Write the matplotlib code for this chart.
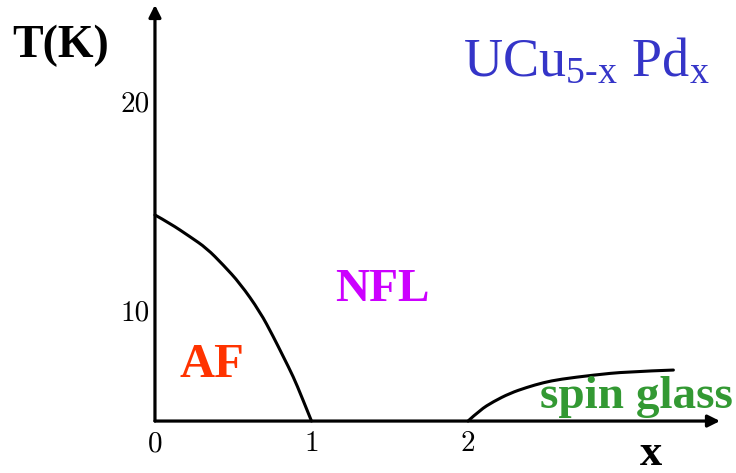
import matplotlib
matplotlib.use("Agg")
import matplotlib.pyplot as plt
from matplotlib.path import Path
from matplotlib.patches import PathPatch

# phase boundaries of UCu(5-x)Pd(x)
x_af = [0.0, 0.096, 0.224, 0.330, 0.436, 0.543, 0.671, 0.756, 0.820,
        0.884, 0.937, 1.0]
t_af = [14.69, 14.29, 13.65, 13.10, 12.30, 11.42, 10.06, 8.87, 7.91,
        6.95, 6.00, 4.83]

x_sg = [2.0, 2.077, 2.162, 2.268, 2.375, 2.481, 2.588, 2.801, 3.014, 3.312]
t_sg = [4.83, 5.36, 5.76, 6.16, 6.44, 6.67, 6.83, 7.03, 7.19, 7.27]

x_ticks = [0, 1, 2]
t_ticks = [10, 20]
t_base = 4.83

plt.rcParams['mathtext.fontset'] = 'custom'
plt.rcParams['mathtext.rm'] = 'Liberation Serif'
plt.rcParams['mathtext.it'] = 'Liberation Serif'


def smooth_path(xs, ys):
    # quadratic bezier through the midpoints, using the points as controls
    pts = list(zip(xs, ys))
    verts = [pts[0]]
    codes = [Path.MOVETO]
    for i in range(1, len(pts) - 1):
        mid = ((pts[i][0] + pts[i + 1][0]) / 2, (pts[i][1] + pts[i + 1][1]) / 2)
        if i == len(pts) - 2:
            mid = pts[-1]
        verts += [pts[i], mid]
        codes += [Path.CURVE3, Path.CURVE3]
    return Path(verts, codes)


fig = plt.figure(figsize=(7.36, 4.73), dpi=100)
ax = fig.add_axes([0, 0, 1, 1])
ax.set_xlim(-0.990, 3.712)
ax.set_ylim(2.344, 24.976)
ax.axis('off')

# axes drawn as arrows
arrow = dict(arrowstyle='-|>', lw=2.3, color='k', mutation_scale=18,
             shrinkA=0, shrinkB=0)
ax.annotate('', xy=(3.61, t_base), xytext=(0, t_base), arrowprops=arrow)
ax.annotate('', xy=(0, 24.74), xytext=(0, t_base), arrowprops=arrow)

for xs, ys in [(x_af, t_af), (x_sg, t_sg)]:
    ax.add_patch(PathPatch(smooth_path(xs, ys), fill=False, color='k',
                           lw=2.2, capstyle='round', joinstyle='round'))

for v in x_ticks:
    ax.text(v, 3.73, str(v), family='cmr10', fontsize=21,
            ha='center', va='center')
for v in t_ticks:
    ax.text(-0.032, v, str(v), family='cmr10', fontsize=21,
            ha='right', va='center')

serif = 'Liberation Serif'
ax.text(0.082, 0.903, 'T(K)', transform=ax.transAxes, family=serif,
        fontweight='bold', fontsize=33, ha='center', va='center')
ax.text(0.8845, 0.016, 'x', transform=ax.transAxes, family=serif,
        fontweight='bold', fontsize=32, ha='center', va='baseline')

ax.text(0.629, 0.841, r'$\mathrm{UCu}_{5\text{-x}}\ \mathrm{Pd}_{\mathrm{x}}$',
        transform=ax.transAxes, color='#3535c8', fontsize=39,
        ha='left', va='baseline')

ax.text(0.519, 0.387, 'NFL', transform=ax.transAxes, family=serif,
        fontweight='bold', fontsize=34, color='#cc00ff',
        ha='center', va='center')
ax.text(0.288, 0.228, 'AF', transform=ax.transAxes, family=serif,
        fontweight='bold', fontsize=35, color='#ff3300',
        ha='center', va='center')
ax.text(0.734, 0.137, 'spin glass', transform=ax.transAxes, family=serif,
        fontweight='bold', fontsize=34, color='#339933',
        ha='left', va='baseline')

fig.savefig('out.png', dpi=100)
